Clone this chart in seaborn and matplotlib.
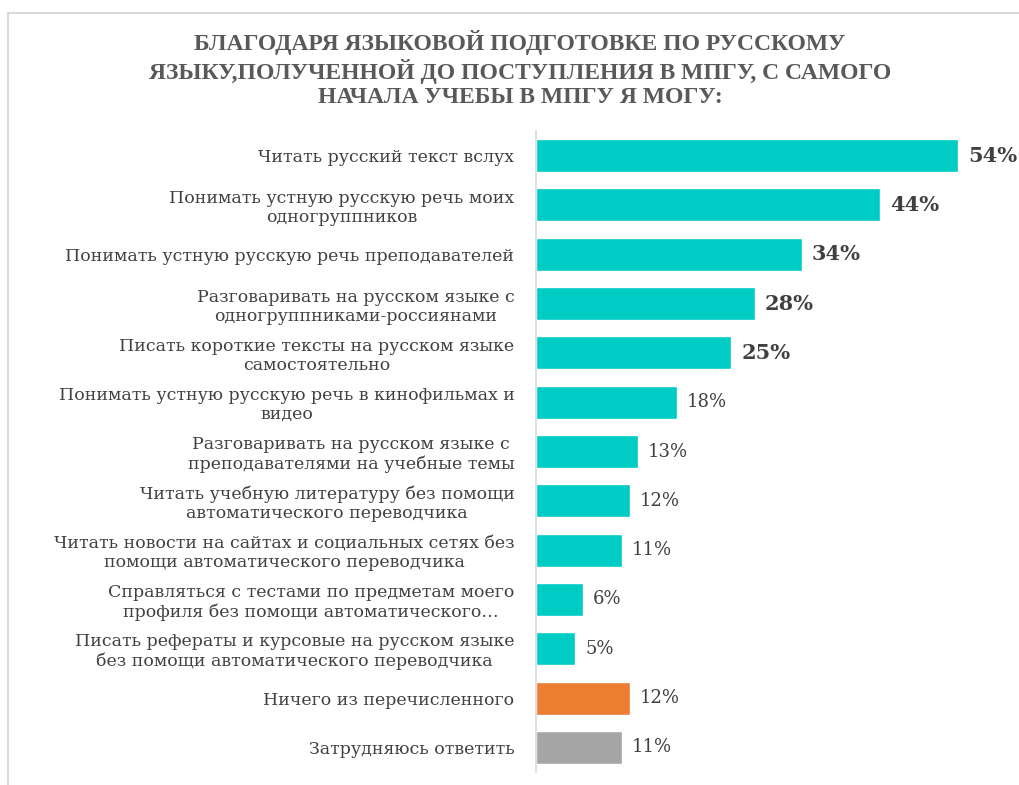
import matplotlib
matplotlib.use("Agg")
import matplotlib.pyplot as plt
import seaborn as sns
import pandas as pd
from matplotlib.lines import Line2D

categories = [
    "Читать русский текст вслух",
    "Понимать устную русскую речь моих\nодногруппников",
    "Понимать устную русскую речь преподавателей",
    "Разговаривать на русском языке с\nодногруппниками-россиянами",
    "Писать короткие тексты на русском языке\nсамостоятельно",
    "Понимать устную русскую речь в кинофильмах и\nвидео",
    "Разговаривать на русском языке с\nпреподавателями на учебные темы",
    "Читать учебную литературу без помощи\nавтоматического переводчика",
    "Читать новости на сайтах и социальных сетях без\nпомощи автоматического переводчика",
    "Справляться с тестами по предметам моего\nпрофиля без помощи автоматического…",
    "Писать рефераты и курсовые на русском языке\nбез помощи автоматического переводчика",
    "Ничего из перечисленного",
    "Затрудняюсь ответить",
]
values = [54, 44, 34, 28, 25, 18, 13, 12, 11, 6, 5, 12, 11]
groups = ["main"] * 11 + ["none", "hard"]
bold_flags = [True] * 5 + [False] * 8

title = ("БЛАГОДАРЯ ЯЗЫКОВОЙ ПОДГОТОВКЕ ПО РУССКОМУ\n"
         "ЯЗЫКУ,ПОЛУЧЕННОЙ ДО ПОСТУПЛЕНИЯ В МПГУ, С САМОГО\n"
         "НАЧАЛА УЧЕБЫ В МПГУ Я МОГУ:")

palette = {"main": "#00CCC6", "none": "#ED7D31", "hard": "#A5A5A5"}

sns.set_theme(style="white")
plt.rcParams["font.family"] = ["DejaVu Serif"]

df = pd.DataFrame({"cat": categories, "val": values, "grp": groups})

fig = plt.figure(figsize=(10.2, 7.85), dpi=100)
ax = fig.add_axes([536 / 1020, 1 - 772 / 785, (1005 - 536) / 1020, (772 - 131) / 785])

sns.barplot(data=df, y="cat", x="val", hue="grp", palette=palette,
            dodge=False, legend=False, width=0.67, ax=ax, orient="h",
            saturation=1)

ax.set_xlim(0, 60)
ax.set_ylim(12.5, -0.5)
ax.set_xlabel("")
ax.set_ylabel("")
ax.set_xticks([])
for s in ["top", "right", "bottom"]:
    ax.spines[s].set_visible(False)
ax.spines["left"].set_color("#D9D9D9")
ax.spines["left"].set_linewidth(1.2)

ax.set_yticks(range(len(categories)))
ax.set_yticklabels(categories, fontsize=12.5, color="#404040",
                   linespacing=1.15)
for lbl in ax.get_yticklabels():
    lbl.set_horizontalalignment("right")
    lbl.set_multialignment("center")
ax.tick_params(axis="y", length=0, pad=15.5)

for i, (v, b) in enumerate(zip(values, bold_flags)):
    ax.text(v + 1.3, i, f"{v}%", va="center", ha="left",
            fontsize=15 if b else 13, fontweight="bold" if b else "normal",
            color="#404040")

fig.text(520 / 1020, 1 - 69 / 785, title, ha="center", va="center",
         fontsize=17, fontweight="bold", color="#595959",
         family=["Liberation Serif", "DejaVu Serif"], linespacing=1.2)

fig.add_artist(Line2D([8 / 1020, 8 / 1020], [0, 1 - 13 / 785],
                      transform=fig.transFigure, color="#D9D9D9", lw=1.5))
fig.add_artist(Line2D([8 / 1020, 1], [1 - 13 / 785, 1 - 13 / 785],
                      transform=fig.transFigure, color="#D9D9D9", lw=1.5))

fig.savefig("out.png", dpi=100, facecolor="white")
